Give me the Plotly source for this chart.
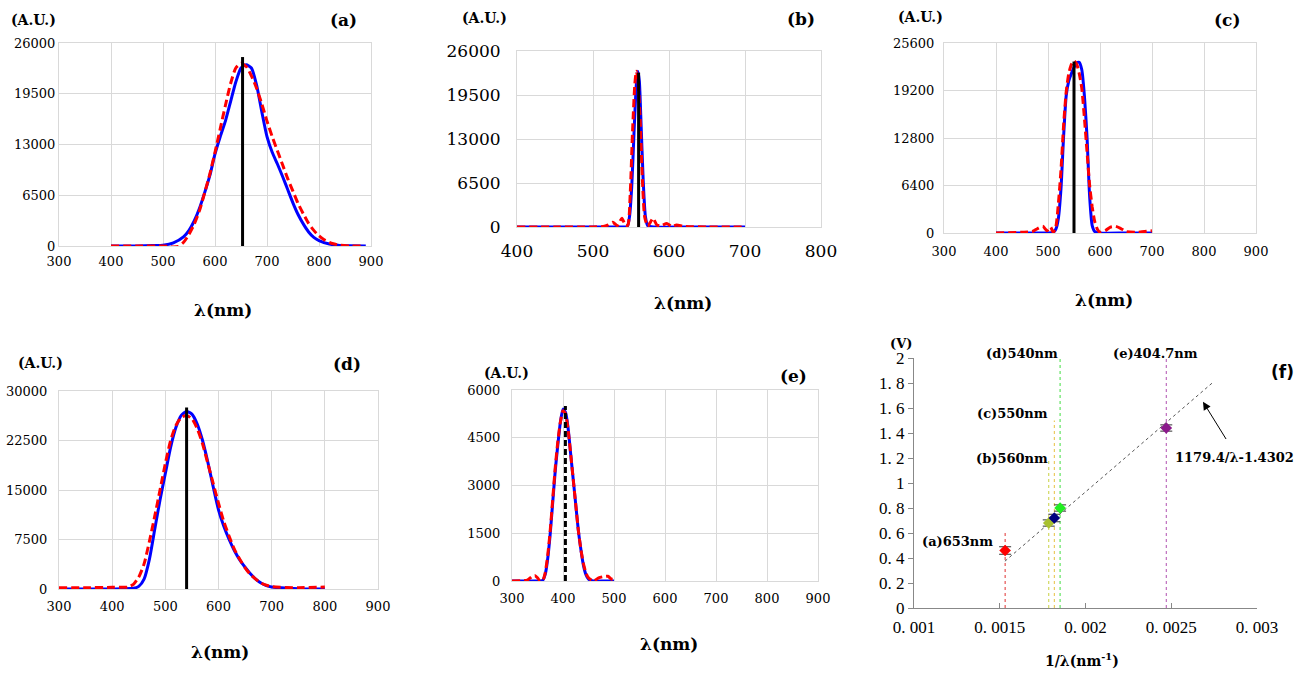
import plotly.graph_objects as go

W, H = 1304, 673

# ---------------- data ----------------
# (a) 653 nm
a_blue_x = [400, 450, 480, 500, 520, 540, 550, 560, 570, 580, 590, 600, 610, 620, 630, 640, 650, 660, 670, 680, 690, 700, 710, 720, 730, 740, 750, 760, 770, 780, 790, 800, 820, 840, 860, 890]
a_blue_y = [0, 0, 50, 100, 400, 1200, 2000, 3200, 4800, 6800, 9000, 11800, 14000, 16000, 18500, 21000, 22800, 23200, 22800, 20600, 17200, 14000, 12000, 10500, 8900, 7200, 5500, 4000, 2800, 1800, 1100, 700, 250, 80, 30, 0]
a_red_x = [400, 450, 500, 510, 520, 530, 540, 550, 560, 570, 580, 590, 600, 610, 620, 630, 640, 650, 660, 670, 680, 690, 700, 710, 720, 730, 740, 750, 760, 770, 780, 790, 800, 810, 820, 840, 860, 880]
a_red_y = [0, 0, 0, -50, -120, -50, 500, 1500, 2800, 4500, 6800, 9200, 12000, 15000, 18000, 20800, 22800, 23400, 23000, 21800, 20200, 18200, 16000, 14000, 12200, 10400, 8600, 7000, 5400, 4100, 2900, 2000, 1300, 800, 450, 100, 0, 0]
a_peak = 653
a_peak_h = 24200

# (b) 560 nm
b_blue_x = [400, 450, 500, 530, 545, 548, 551, 554, 557, 559, 561, 563, 566, 569, 572, 580, 620, 660, 700]
b_blue_y = [0, 0, 0, 0, 100, 1500, 6000, 14000, 21000, 23000, 21500, 16000, 7000, 1500, 200, 0, 0, 0, 0]
b_red_x = [400, 450, 500, 515, 520, 526, 532, 538, 543, 546, 549, 552, 555, 557, 559, 562, 565, 568, 572, 575, 579, 584, 590, 597, 604, 610, 620, 650, 700]
b_red_y = [0, 0, 0, 100, 300, 700, 200, 1300, 200, 300, 5000, 14000, 21000, 23000, 22000, 16000, 7000, 1500, 100, 600, 1300, 300, 200, 500, 100, 300, 100, 0, 0]
b_peak = 560
b_peak_h = 22800

# (c) 550 nm
c_blue_x = [400, 450, 500, 510, 515, 520, 525, 530, 535, 540, 545, 550, 555, 560, 565, 570, 575, 580, 585, 590, 600, 650, 700]
c_blue_y = [0, 0, 0, 100, 500, 2000, 6000, 13000, 18500, 20500, 21500, 22300, 22900, 23000, 22000, 18500, 13000, 5000, 1000, 200, 0, 0, 0]
c_red_x = [400, 450, 470, 480, 490, 498, 505, 510, 515, 520, 525, 530, 535, 540, 545, 550, 555, 560, 565, 570, 575, 580, 585, 590, 595, 600, 610, 620, 630, 640, 650, 670, 700]
c_red_y = [0, 100, 200, 600, 900, 300, 800, 100, 800, 4000, 8500, 14500, 19000, 21500, 22700, 23200, 22800, 21500, 19500, 15500, 11000, 6500, 3500, 1500, 500, 100, 300, 800, 900, 600, 200, 100, 300]
c_peak = 550
c_peak_h = 23100

# (d) 540 nm
d_blue_x = [300, 350, 400, 440, 450, 460, 470, 480, 490, 500, 510, 520, 530, 540, 550, 560, 570, 580, 590, 600, 610, 620, 630, 640, 650, 660, 670, 680, 690, 700, 750, 800]
d_blue_y = [0, 0, 0, 100, 400, 1500, 4500, 9000, 13500, 17500, 21500, 24500, 26300, 26900, 26500, 25000, 22500, 19200, 15500, 12000, 9500, 7500, 5800, 4400, 3300, 2300, 1500, 900, 500, 300, 50, 0]
d_red_x = [300, 350, 400, 430, 440, 450, 460, 470, 480, 490, 500, 510, 520, 530, 540, 550, 560, 570, 580, 590, 600, 610, 620, 630, 640, 650, 660, 680, 700, 750, 800]
d_red_y = [200, 200, 250, 300, 700, 1800, 3800, 7200, 11000, 15000, 19000, 22500, 24800, 26000, 26300, 25800, 24300, 22000, 19000, 16000, 13000, 10200, 8000, 6000, 4500, 3200, 2200, 900, 350, 200, 300]
d_peak = 540
d_peak_h = 27500

# (e) 404.7 nm
e_blue_x = [300, 330, 350, 360, 365, 370, 375, 380, 385, 390, 395, 400, 405, 410, 415, 420, 425, 430, 435, 440, 445, 450, 460, 480, 500]
e_blue_y = [0, 0, 0, 20, 200, 700, 1500, 2500, 3500, 4300, 5000, 5400, 5300, 4800, 4000, 3200, 2400, 1600, 1000, 500, 200, 60, 0, 0, 0]
e_red_x = [300, 330, 340, 345, 350, 355, 360, 365, 370, 375, 380, 385, 390, 395, 400, 405, 410, 415, 420, 425, 430, 435, 440, 445, 450, 460, 470, 480, 488, 495, 500]
e_red_y = [0, 30, 150, 170, 100, 0, 0, 250, 800, 1600, 2600, 3600, 4400, 5000, 5350, 5250, 4750, 4000, 3200, 2400, 1600, 1000, 550, 250, 100, 0, 100, 140, 150, 60, 50]
e_peak = 404.7
e_peak_h = 5500

# (f) stopping voltage vs 1/lambda
f_labels = ["(a)653nm", "(b)560nm", "(c)550nm", "(d)540nm", "(e)404.7nm"]
f_lambda = [653, 560, 550, 540, 404.7]
f_volt = [0.46, 0.68, 0.72, 0.80, 1.44]
f_err = [0.03, 0.025, 0.03, 0.025, 0.025]
f_colors = ["#ff0000", "#a8c030", "#000080", "#22ee22", "#8b1a8b"]
f_vline_colors = ["#e03030", "#c8d040", "#e8c040", "#40dd40", "#b050b0"]
f_vline_top = [0.6, 1.2, 1.5, 2.0, 2.0]
fit_slope = 1179.4
fit_icept = -1.4302
fit_x_range = [0.00153, 0.00274]
f_xticks = [0.001, 0.0015, 0.002, 0.0025, 0.003]
f_xticktext = ["0. 001", "0. 0015", "0. 002", "0. 0025", "0. 003"]
f_yticks = [0, 0.2, 0.4, 0.6, 0.8, 1.0, 1.2, 1.4, 1.6, 1.8, 2.0]
f_yticktext = ["0", "0. 2", "0. 4", "0. 6", "0. 8", "1", "1. 2", "1. 4", "1. 6", "1. 8", "2"]

# ---------------- layout helpers ----------------
def dom_x(p0, p1):
    return [p0 / W, p1 / W]

def dom_y(top, bot):
    return [1 - bot / H, 1 - top / H]

def px(x):
    return x / W

def py(y):
    return 1 - y / H

SERIF = "DejaVu Serif"
GRID = "#d9d9d9"

fig = go.Figure()

panels = [
    ("a", a_blue_x, a_blue_y, a_red_x, a_red_y, a_peak, a_peak_h, [300, 900], 100, [0, 26000], [0, 6500, 13000, 19500, 26000], dom_x(59, 371), dom_y(43, 246), 13, "solid", 3, 0),
    ("b", b_blue_x, b_blue_y, b_red_x, b_red_y, b_peak, b_peak_h, [400, 800], 100, [0, 26000], [0, 6500, 13000, 19500, 26000], dom_x(517, 821), dom_y(51, 227), 17, "solid", 9, 12),
    ("c", c_blue_x, c_blue_y, c_red_x, c_red_y, c_peak, c_peak_h, [300, 900], 100, [0, 25600], [0, 6400, 12800, 19200, 25600], dom_x(944, 1256), dom_y(43, 233), 13, "solid", 6, 6),
    ("d", d_blue_x, d_blue_y, d_red_x, d_red_y, d_peak, d_peak_h, [300, 900], 100, [0, 30000], [0, 7500, 15000, 22500, 30000], dom_x(59, 378), dom_y(391, 589), 13, "solid", 5, 8),
    ("e", e_blue_x, e_blue_y, e_red_x, e_red_y, e_peak, e_peak_h, [300, 900], 100, [0, 6000], [0, 1500, 3000, 4500, 6000], dom_x(512, 818), dom_y(390, 581), 13, "6px,3px", 5, 8),
]

layout_axes = {}
for i, (nm, bx, by, rx, ry, pk, pkh, xr, xdt, yr, yt, dx, dy, tf, pdash, xso, yso) in enumerate(panels):
    k = "" if i == 0 else str(i + 1)
    xa, ya = "x" + k, "y" + k
    fig.add_trace(go.Scatter(x=bx, y=by, mode="lines", line=dict(color="#0000ff", width=3, shape="spline", smoothing=0.6),
                             xaxis=xa, yaxis=ya, showlegend=False, hoverinfo="skip"))
    fig.add_trace(go.Scatter(x=rx, y=ry, mode="lines", line=dict(color="#ff0000", width=3, dash="8px,4px", shape="spline", smoothing=0.6),
                             xaxis=xa, yaxis=ya, showlegend=False, hoverinfo="skip"))
    fig.add_trace(go.Scatter(x=[pk, pk], y=[0, pkh], mode="lines", line=dict(color="#000000", width=3, dash=pdash),
                             xaxis=xa, yaxis=ya, showlegend=False, hoverinfo="skip"))
    layout_axes["xaxis" + k] = dict(domain=dx, range=xr, dtick=xdt, tick0=xr[0], anchor=ya, showgrid=True, gridcolor=GRID, gridwidth=1,
                                    showline=True, linecolor=GRID, mirror=True, zeroline=False, ticks="", automargin=False,
                                    ticklabelstandoff=xso,
                                    tickfont=dict(family=SERIF, size=tf, color="#000"), fixedrange=True)
    layout_axes["yaxis" + k] = dict(domain=dy, range=yr, tickvals=yt, ticktext=[str(v) for v in yt], anchor=xa,
                                    showgrid=True, gridcolor=GRID, gridwidth=1,
                                    showline=True, linecolor=GRID, mirror=True, zeroline=True, zerolinecolor="#bfbfbf", zerolinewidth=1.5,
                                    ticks="", automargin=False, ticklabelstandoff=yso,
                                    tickfont=dict(family=SERIF, size=tf, color="#000"), fixedrange=True)

# panel f
fx_axis, fy_axis = "x6", "y6"
for lam, col, top in zip(f_lambda, f_vline_colors, f_vline_top):
    fig.add_trace(go.Scatter(x=[1 / lam, 1 / lam], y=[0, top], mode="lines", line=dict(color=col, width=1, dash="dot"),
                             xaxis=fx_axis, yaxis=fy_axis, showlegend=False, hoverinfo="skip"))
fig.add_trace(go.Scatter(x=fit_x_range, y=[fit_slope * v + fit_icept for v in fit_x_range], mode="lines",
                         line=dict(color="#555555", width=1, dash="dot"), xaxis=fx_axis, yaxis=fy_axis, showlegend=False, hoverinfo="skip"))
fig.add_trace(go.Scatter(x=[1 / l for l in f_lambda], y=f_volt, mode="markers",
                         marker=dict(color=f_colors, size=9, symbol="diamond"),
                         error_y=dict(type="data", array=f_err, visible=True, color="#333333", thickness=1, width=6),
                         xaxis=fx_axis, yaxis=fy_axis, showlegend=False, hoverinfo="skip"))

layout_axes["xaxis6"] = dict(domain=dom_x(914, 1257), range=[0.001, 0.003], anchor=fy_axis,
                             tickvals=f_xticks, ticktext=f_xticktext,
                             showgrid=False, zeroline=False, showline=True, linecolor="#888888", linewidth=1,
                             ticks="inside", ticklen=5, tickcolor="#888888", automargin=False, ticklabelstandoff=4,
                             tickfont=dict(family="Liberation Serif", size=17, color="#000"), fixedrange=True)
layout_axes["yaxis6"] = dict(domain=dom_y(358, 608), range=[0, 2], anchor=fx_axis,
                             tickvals=f_yticks, ticktext=f_yticktext,
                             showgrid=False, zeroline=False, showline=True, linecolor="#888888", linewidth=1,
                             ticks="outside", ticklen=5, tickcolor="#888888", automargin=False,
                             tickfont=dict(family="Liberation Serif", size=17, color="#000"), fixedrange=True)

# ---------------- annotations ----------------
ann = []
def txt(x, y, s, size, family=SERIF, bold=True, xanchor="center"):
    ann.append(dict(x=px(x), y=py(y), xref="paper", yref="paper", text=("<b>%s</b>" % s) if bold else s,
                    showarrow=False, xanchor=xanchor, yanchor="middle",
                    font=dict(family=family, size=size, color="#000")))

txt(33, 20, "(A.U.)", 14); txt(344, 20, "(a)", 17); txt(223, 310, "λ(nm)", 17)
txt(484, 18, "(A.U.)", 14); txt(801, 19, "(b)", 17); txt(683, 303, "λ(nm)", 17)
txt(920, 17, "(A.U.)", 14); txt(1227, 20, "(c)", 17); txt(1104, 300, "λ(nm)", 17)
txt(40, 363, "(A.U.)", 14); txt(347, 364, "(d)", 17); txt(220, 652, "λ(nm)", 17)
txt(506, 373, "(A.U.)", 14); txt(793, 376, "(e)", 17); txt(669, 644, "λ(nm)", 17)
txt(901, 343, "(V)", 13); txt(1282, 372, "(f)", 17, family="DejaVu Sans"); txt(1082, 660, "1/λ(nm<sup>-1</sup>)", 14)

f_label_px = [(957, 541), (1012, 458), (1012, 413), (1022, 353), (1155, 353)]
for lab, (lx, ly) in zip(f_labels, f_label_px):
    txt(lx, ly, lab, 13)
txt(1234, 457, "1179.4/λ-1.4302", 13)
ann.append(dict(x=0.002685, y=1.65, xref="x6", yref="y6", ax=0.002825, ay=1.34, axref="x6", ayref="y6",
                text="", showarrow=True, arrowhead=2, arrowsize=1.6, arrowwidth=1, arrowcolor="#000"))

fig.update_layout(width=W, height=H, margin=dict(l=0, r=0, t=0, b=0), paper_bgcolor="white", plot_bgcolor="white",
                  showlegend=False, annotations=ann, **layout_axes)

fig.write_html("out.html", config={"displayModeBar": False},
               post_script="document.body.style.margin='0px';document.body.style.overflow='hidden';")
